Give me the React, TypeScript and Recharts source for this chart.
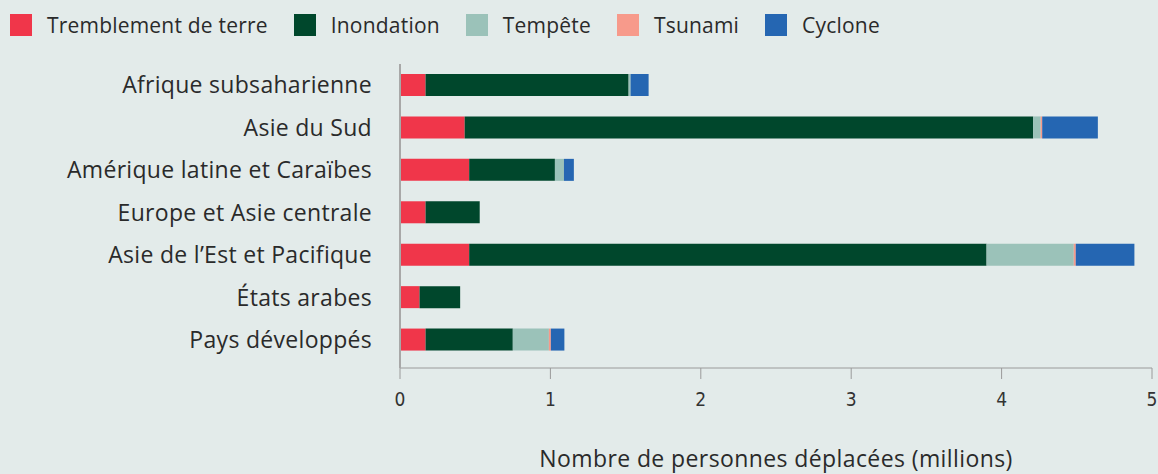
import React from 'react';
import { BarChart, Bar, XAxis, YAxis, Legend } from 'recharts';

const regions = [
  'Afrique subsaharienne',
  'Asie du Sud',
  'Amérique latine et Caraïbes',
  'Europe et Asie centrale',
  "Asie de l’Est et Pacifique",
  'États arabes',
  'Pays développés',
];

// millions de personnes déplacées
const earthquake = [0.17, 0.43, 0.46, 0.17, 0.46, 0.13, 0.17];
const flood = [1.35, 3.78, 0.57, 0.36, 3.44, 0.27, 0.58];
const storm = [0.013, 0.05, 0.06, 0, 0.58, 0, 0.24];
const tsunami = [0, 0.01, 0, 0, 0.013, 0, 0.013];
const cyclone = [0.12, 0.37, 0.066, 0, 0.39, 0, 0.09];

const xTicks = [0, 1, 2, 3, 4, 5];

const series = [
  { key: 'earthquake', name: 'Tremblement de terre', color: '#f0364a' },
  { key: 'flood', name: 'Inondation', color: '#00472c' },
  { key: 'storm', name: 'Tempête', color: '#9bc2b9' },
  { key: 'tsunami', name: 'Tsunami', color: '#f79a8b' },
  { key: 'cyclone', name: 'Cyclone', color: '#2566b2' },
];

const data = regions.map((region, i) => ({
  region,
  earthquake: earthquake[i],
  flood: flood[i],
  storm: storm[i],
  tsunami: tsunami[i],
  cyclone: cyclone[i],
}));

const FONT = '"Open Sans", "Noto Sans", sans-serif';

const renderLegend = () => (
  <div style={{ height: 50, display: 'flex', alignItems: 'flex-start', paddingTop: 14, paddingLeft: 10, boxSizing: 'border-box' }}>
    {series.map((s) => (
      <div key={s.key} style={{ display: 'flex', alignItems: 'center', marginRight: 26 }}>
        <span style={{ width: 22, height: 22, background: s.color, display: 'inline-block', marginRight: 15 }} />
        <span style={{ fontFamily: FONT, fontSize: 21, letterSpacing: 0.2, color: '#2a2a2a', lineHeight: '22px' }}>{s.name}</span>
      </div>
    ))}
  </div>
);

export default function App() {
  return (
    <div style={{ width: 1158, height: 474, background: '#e3ebea' }}>
      <style>{`body{margin:0}`}</style>
      <BarChart
        width={1158}
        height={474}
        data={data}
        layout="vertical"
        margin={{ top: 14, right: 6, bottom: 0, left: 0 }}
        barSize={22}
      >
        <Legend verticalAlign="top" align="left" content={renderLegend} wrapperStyle={{ top: 0, left: 0 }} />
        <XAxis
          type="number"
          domain={[0, 5]}
          ticks={xTicks}
          interval={0}
          tickSize={11}
          tickMargin={14}
          stroke="#9a9a9a"
          height={106}
          tick={{ fill: '#333', fontSize: 19, fontFamily: '"Liberation Sans Narrow", "DejaVu Sans Condensed", Roboto, sans-serif' }}
          label={{ value: 'Nombre de personnes déplacées (millions)', position: 'insideBottom', offset: 7, fill: '#2a2a2a', fontSize: 23, letterSpacing: 0.4, fontFamily: FONT }}
        />
        <YAxis
          type="category"
          dataKey="region"
          width={400}
          tickLine={false}
          tickSize={0}
          tickMargin={28}
          padding={{ top: 0, bottom: 7 }}
          axisLine={{ stroke: '#a8a8a8', strokeWidth: 2 }}
          tick={{ fill: '#2a2a2a', fontSize: 23, letterSpacing: 0.3, fontFamily: FONT }}
        />
        {series.map((s) => (
          <Bar key={s.key} dataKey={s.key} name={s.name} stackId="a" fill={s.color} isAnimationActive={false} />
        ))}
      </BarChart>
    </div>
  );
}
